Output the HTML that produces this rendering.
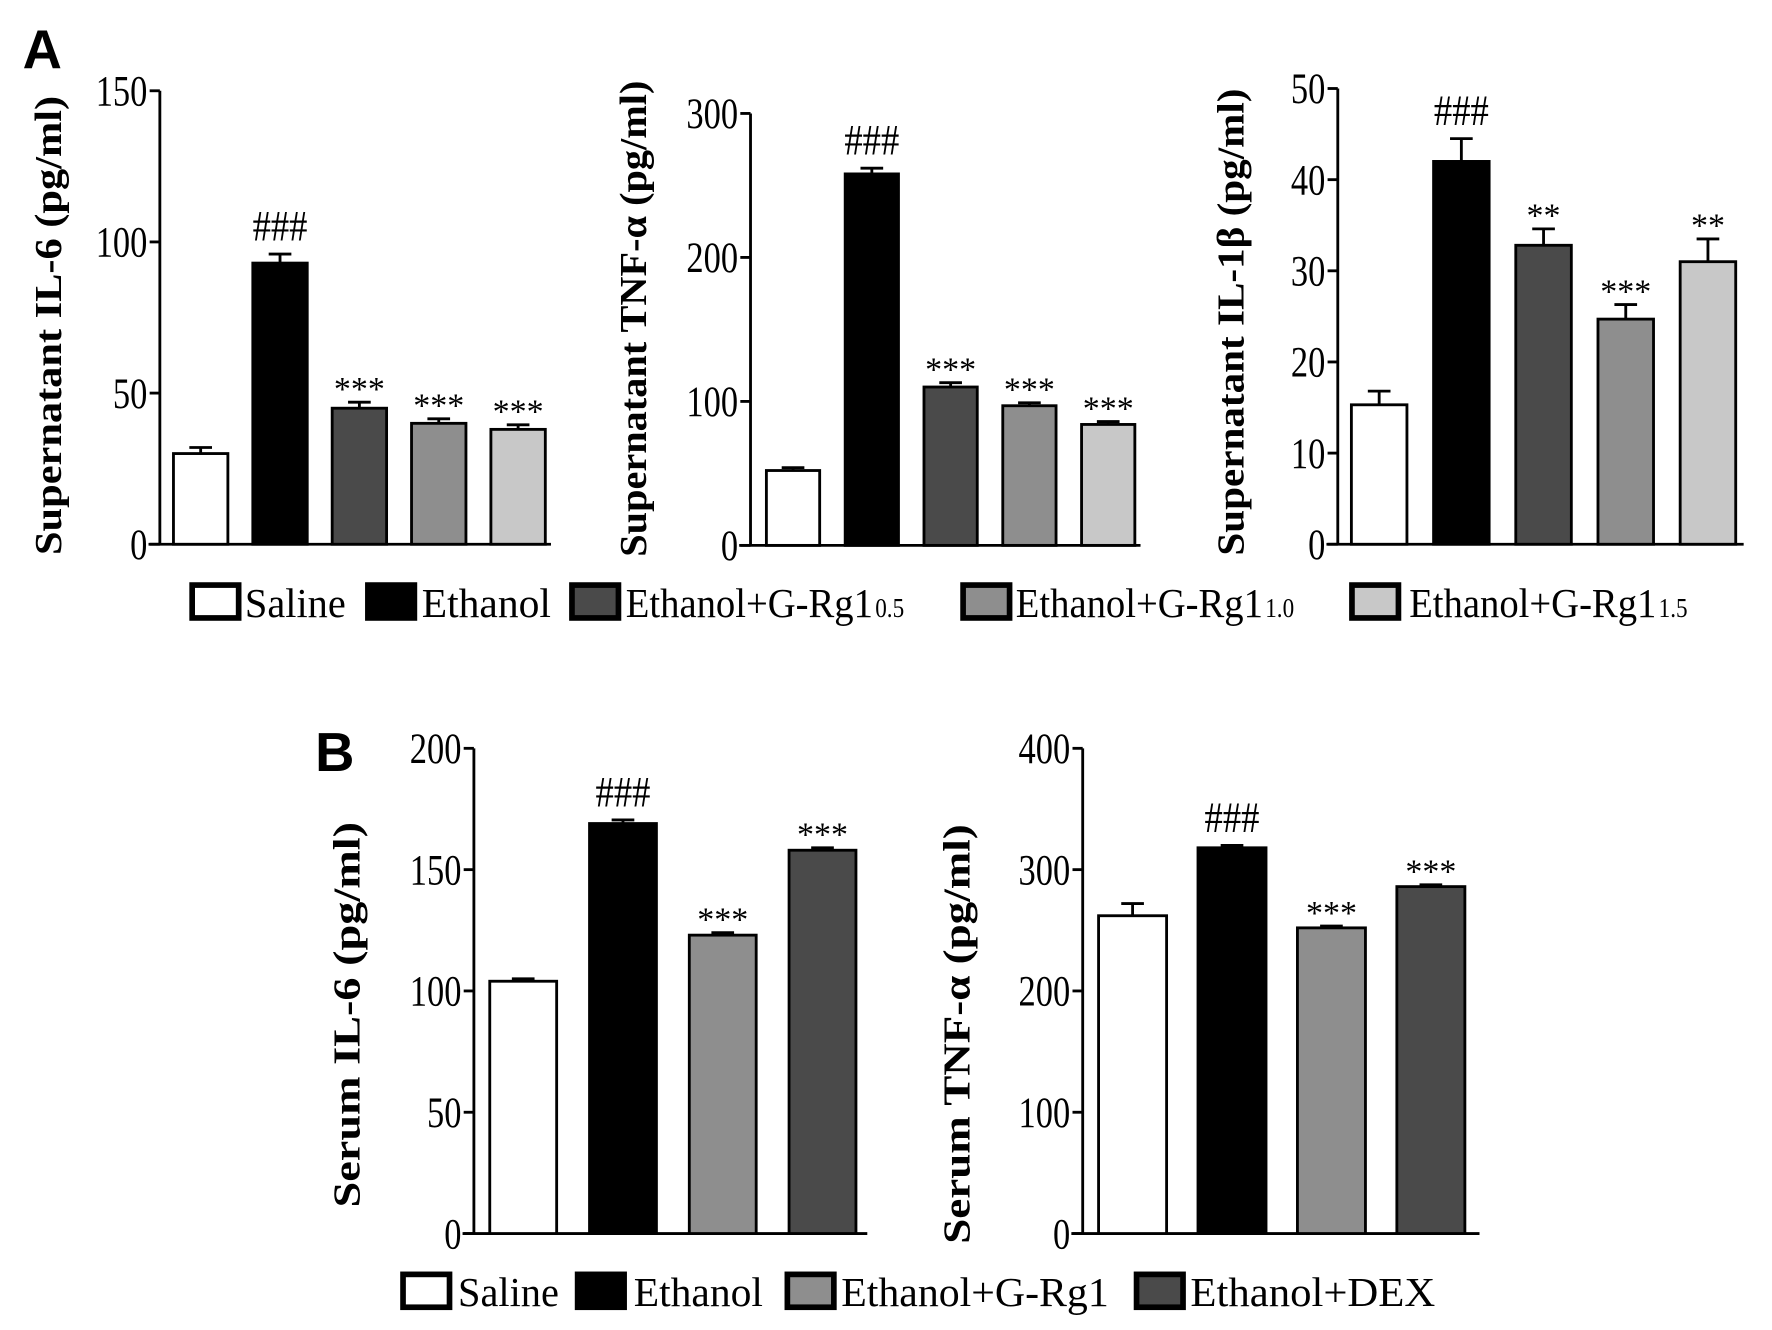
<!DOCTYPE html>
<html><head><meta charset="utf-8"><style>
html,body{margin:0;padding:0;background:#fff;}
svg{display:block;}
text{font-family:"Liberation Serif",serif;fill:#000;}
</style></head>
<body>
<svg id="fig" width="1772" height="1330" viewBox="0 0 1563 1173" xmlns="http://www.w3.org/2000/svg">
<text x="20" y="60" font-weight="bold" font-size="48" style="font-family:'Liberation Sans',sans-serif">A</text>
<text x="278" y="680" font-weight="bold" font-size="48" style="font-family:'Liberation Sans',sans-serif">B</text>
<g id="legA"></g>
<g id="legB"></g>
</svg>
<script>
// Panel A data
const groupsA = ["Saline","Ethanol","Ethanol+G-Rg1 0.5","Ethanol+G-Rg1 1.0","Ethanol+G-Rg1 1.5"];
const il6A = [30,93,45,40,38];
const il6AErr = [2,3,2,1.5,1.5];
const il6ASig = ["","###","***","***","***"];
const il6ATicks = [0,50,100,150];
const tnfA = [52,258,110,97,84];
const tnfAErr = [2,4,3,2,2];
const tnfASig = ["","###","***","***","***"];
const tnfATicks = [0,100,200,300];
const il1bA = [15.3,42,32.8,24.7,31];
const il1bAErr = [1.5,2.5,1.8,1.6,2.5];
const il1bASig = ["","###","**","***","**"];
const il1bATicks = [0,10,20,30,40,50];
// Panel B data
const groupsB = ["Saline","Ethanol","Ethanol+G-Rg1","Ethanol+DEX"];
const il6B = [104,169,123,158];
const il6BErr = [1,1.5,1,1];
const il6BSig = ["","###","***","***"];
const il6BTicks = [0,50,100,150,200];
const tnfB = [262,318,252,286];
const tnfBErr = [10,2,1.5,1.5];
const tnfBSig = ["","###","***","***"];
const tnfBTicks = [0,100,200,300,400];

const fillsA = ["#fff","#000","#4a4a4a","#8e8e8e","#c8c8c8"];
const fillsB = ["#fff","#000","#8e8e8e","#4a4a4a"];
const NS = "http://www.w3.org/2000/svg";
const svg = document.getElementById("fig");
function mk(tag, attrs, parent){const e=document.createElementNS(NS,tag);for(const k in attrs)e.setAttribute(k,attrs[k]);(parent||svg).appendChild(e);return e;}

function chart(cfg){
  const g = mk("g",{});
  
  
  const max = cfg.ticks[cfg.ticks.length-1];
  const y = v => cfg.y0 - (v/max)*(cfg.y0-cfg.yTop);
  const x = i => cfg.x0 + cfg.first + i*cfg.step;
  const ya = mk("line",{x1:cfg.x0,y1:cfg.yTop,x2:cfg.x0,y2:cfg.y0,stroke:"#000","stroke-width":2.5},g);
  
  
  const xa = mk("line",{x1:cfg.x0-10,y1:cfg.y0,x2:cfg.xEnd,y2:cfg.y0,stroke:"#000","stroke-width":2.5},g);
  
  
  cfg.ticks.forEach(t=>{
    mk("line",{x1:cfg.x0-9,y1:y(t),x2:cfg.x0,y2:y(t),stroke:"#000","stroke-width":2.5},g);
    const tx = cfg.x0-11;
    const tl = mk("text",{x:0,y:0,"text-anchor":"end","font-size":38,transform:`translate(${tx},${y(t)+13}) scale(0.8,1)`},g);
    tl.textContent = t;
    
    
  });
  cfg.vals.forEach((v,i)=>{
    const bx = x(i);
    const top = y(v), et = y(v+cfg.err[i]);
    mk("line",{x1:bx+cfg.bw/2,y1:top,x2:bx+cfg.bw/2,y2:et,stroke:"#000","stroke-width":2.5},g);
    mk("line",{x1:bx+cfg.bw/2-10,y1:et,x2:bx+cfg.bw/2+10,y2:et,stroke:"#000","stroke-width":2.5},g);
    const r = mk("rect",{x:bx,y:top,width:cfg.bw,height:cfg.y0-top,fill:cfg.fills[i],stroke:"#000","stroke-width":2.5},g);
    
    
    if(cfg.sig[i]){
      const hash = cfg.sig[i]==="###";
      const s = mk("text",{x:0,y:0,"text-anchor":"middle","font-size":hash?38:30,transform:`translate(${bx+cfg.bw/2},${et-(hash?12:2)}) scale(${hash?0.85:1},1)`},g);
      s.textContent = cfg.sig[i];
      
      
    }
  });
  const lab = mk("text",{x:0,y:0,"text-anchor":"middle","font-size":34,"font-weight":"bold",textLength:cfg.ll,lengthAdjust:"spacingAndGlyphs",transform:`translate(${cfg.lx},${cfg.ly}) rotate(-90)`},g);
  lab.textContent = cfg.label;
  
  
}

chart({name:"chart-supernatant-il6",x0:141,y0:480,yTop:80,xEnd:486,first:12,step:70,bw:48,vals:il6A,err:il6AErr,sig:il6ASig,ticks:il6ATicks,fills:fillsA,groups:groupsA,label:"Supernatant IL-6 (pg/ml)",lx:54,ly:287,ll:405});
chart({name:"chart-supernatant-tnf",x0:662,y0:481,yTop:100,xEnd:1006,first:14,step:69.5,bw:47,vals:tnfA,err:tnfAErr,sig:tnfASig,ticks:tnfATicks,fills:fillsA,groups:groupsA,label:"Supernatant TNF-α (pg/ml)",lx:570,ly:281,ll:420});
chart({name:"chart-supernatant-il1b",x0:1180,y0:480,yTop:78,xEnd:1538,first:12,step:72.5,bw:49,vals:il1bA,err:il1bAErr,sig:il1bASig,ticks:il1bATicks,fills:fillsA,groups:groupsA,label:"Supernatant IL-1β (pg/ml)",lx:1097,ly:284,ll:412});
chart({name:"chart-serum-il6",x0:418,y0:1088,yTop:660,xEnd:765,first:14,step:88,bw:59,vals:il6B,err:il6BErr,sig:il6BSig,ticks:il6BTicks,fills:fillsB,groups:groupsB,label:"Serum IL-6 (pg/ml)",lx:317,ly:895,ll:340});
chart({name:"chart-serum-tnf",x0:955,y0:1088,yTop:660,xEnd:1305,first:14,step:87.7,bw:60,vals:tnfB,err:tnfBErr,sig:tnfBSig,ticks:tnfBTicks,fills:fillsB,groups:groupsB,label:"Serum TNF-α (pg/ml)",lx:855,ly:912,ll:370});

function legend(id, items, y){
  const g = document.getElementById(id);
  items.forEach(it=>{
    const eg = mk("g",{},g);
    
    
    mk("rect",{x:it.bx+2.5,y:y-16,width:41,height:29,fill:it.fill,stroke:"#000","stroke-width":5},eg);
    const t = mk("text",{x:it.tx,y:y+12,"font-size":36,textLength:it.tw,lengthAdjust:"spacingAndGlyphs"},eg);
    t.textContent = it.label;
    if(it.sub){
      const s = mk("text",{x:0,y:0,"font-size":24,transform:`translate(${it.tx+it.tw+2},${y+12}) scale(0.85,1)`},eg);
      s.textContent = it.sub;
    }
  });
}
legend("legA",[
 {bx:167,tx:216,tw:89,label:"Saline",fill:"#fff"},
 {bx:322,tx:372,tw:114,label:"Ethanol",fill:"#000"},
 {bx:502,tx:552,tw:218,label:"Ethanol+G-Rg1",sub:"0.5",fill:"#4a4a4a"},
 {bx:847,tx:896,tw:218,label:"Ethanol+G-Rg1",sub:"1.0",fill:"#8e8e8e"},
 {bx:1190,tx:1243,tw:218,label:"Ethanol+G-Rg1",sub:"1.5",fill:"#c8c8c8"}
],532);
legend("legB",[
 {bx:353,tx:404,tw:89,label:"Saline",fill:"#fff"},
 {bx:507,tx:559,tw:114,label:"Ethanol",fill:"#000"},
 {bx:692,tx:742,tw:236,label:"Ethanol+G-Rg1",fill:"#8e8e8e"},
 {bx:1000,tx:1050,tw:216,label:"Ethanol+DEX",fill:"#4a4a4a"}
],1140);
</script>
</body></html>
